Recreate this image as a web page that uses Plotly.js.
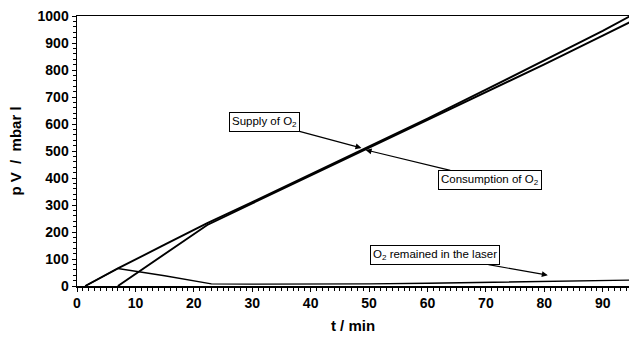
<!DOCTYPE html>
<html>
<head>
<meta charset="utf-8">
<script src="https://cdn.plot.ly/plotly-3.0.1.min.js"></script>
<style>html,body{margin:0;padding:0;background:#fff;}#chart{width:629px;height:341px;}</style>
</head>
<body>
<div id="chart"></div>
<script>
// time / min
const tSupply = [1.4, 7, 15, 22.3, 30, 40, 50, 60, 70, 80, 90, 95];
const supply  = [0, 65, 153, 233, 311, 414, 516, 620, 727, 835, 945, 1003];

const tConsumption = [7, 10.4, 15, 22.3, 30, 40, 50, 60, 70, 80, 90, 95];
const consumption  = [0, 50, 118, 226, 306, 409, 510, 612, 716, 821, 927, 981];

const tRemained = [1.4, 7, 15, 23, 30, 40, 50, 60, 70, 80, 90, 95];
const remained  = [0, 65, 38, 8, 7, 7, 8, 10, 13, 17, 20, 22];

const xTicks = [0, 10, 20, 30, 40, 50, 60, 70, 80, 90];
const yTicks = [0, 100, 200, 300, 400, 500, 600, 700, 800, 900, 1000];

const labelSupply = 'Supply of O<sub>2</sub>';
const labelConsumption = 'Consumption of O<sub>2</sub>';
const labelRemained = 'O<sub>2</sub> remained in the laser';

const lineStyle = {color: '#000', width: 1.9};
const traces = [
  {x: tSupply, y: supply, mode: 'lines', line: lineStyle, name: 'supply'},
  {x: tConsumption, y: consumption, mode: 'lines', line: lineStyle, name: 'consumption'},
  {x: tRemained, y: remained, mode: 'lines', line: {color: '#000', width: 1.4}, name: 'remained'}
];

const annFont = {family: 'Liberation Sans, Arial, sans-serif', size: 11.5, color: '#000'};
const annBase = {
  xref: 'x', yref: 'y', showarrow: true, arrowhead: 2, arrowsize: 1, arrowwidth: 1.2,
  arrowcolor: '#000', bordercolor: '#000', borderwidth: 1, borderpad: 2,
  bgcolor: '#fff', font: annFont, axref: 'pixel', ayref: 'pixel'
};

const tickFont = {size: 14, family: 'Liberation Sans, Arial, sans-serif', weight: 'bold', color: '#000'};

const layout = {
  width: 629, height: 341,
  margin: {l: 77, r: 0, t: 16, b: 55},
  paper_bgcolor: '#fff', plot_bgcolor: '#fff',
  showlegend: false,
  font: {family: 'Liberation Sans, Arial, sans-serif', color: '#000'},
  xaxis: {
    range: [0, 94.5], tickvals: xTicks, ticktext: xTicks.map(String),
    ticks: 'outside', ticklen: 4, tickcolor: '#000', tickwidth: 1,
    showline: true, linecolor: '#000', linewidth: 1.5, mirror: true,
    showgrid: false, zeroline: false,
    tickfont: tickFont,
    minor: {dtick: 1, ticks: 'outside', ticklen: 3, tickcolor: '#000', showgrid: false},
    title: {text: '<b>t / min</b>', font: {size: 15}, standoff: 10}
  },
  yaxis: {
    range: [0, 1000], tickvals: yTicks, ticktext: yTicks.map(String),
    ticks: 'outside', ticklen: 4, tickcolor: '#000', tickwidth: 1,
    showline: true, linecolor: '#000', linewidth: 1.5, mirror: false,
    showgrid: false, zeroline: false,
    tickfont: tickFont,
    minor: {dtick: 20, ticks: 'outside', ticklen: 3, tickcolor: '#000', showgrid: false},
    title: {text: '<b>p V  /  mbar l</b>', font: {size: 15}, standoff: 12}
  },
  annotations: [
    Object.assign({}, annBase, {x: 48.7, y: 511, text: labelSupply, ax: -97, ay: -26}),
    Object.assign({}, annBase, {x: 49.4, y: 504, text: labelConsumption, ax: 124, ay: 30}),
    Object.assign({}, annBase, {x: 80.6, y: 40, text: labelRemained, ax: -113, ay: -20})
  ]
};

Plotly.newPlot('chart', traces, layout, {displayModeBar: false, staticPlot: true});
</script>
</body>
</html>
